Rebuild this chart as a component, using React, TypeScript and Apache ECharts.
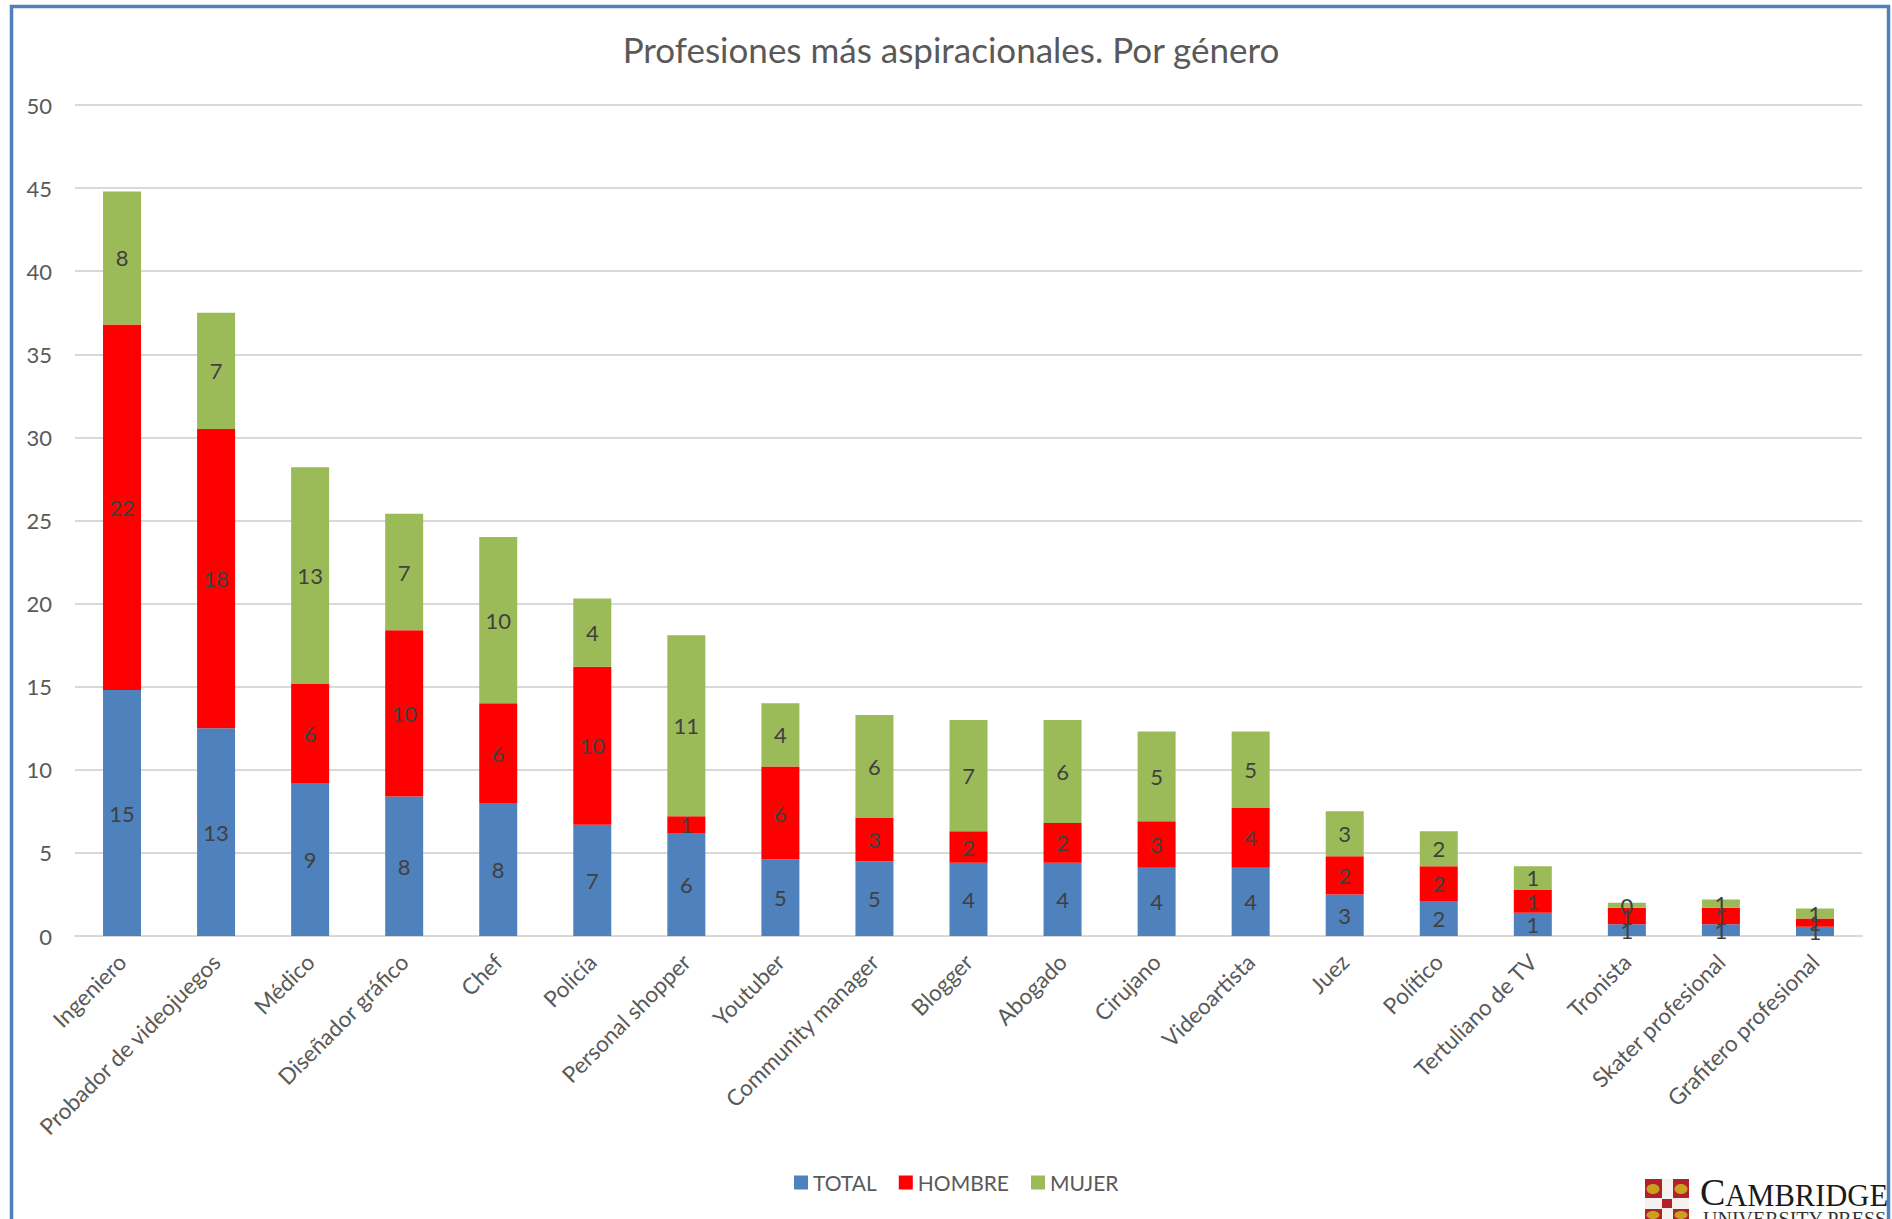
import React, { useEffect, useRef } from "react";
import * as echarts from "echarts";

const categories = ["Ingeniero", "Probador de videojuegos", "Médico", "Diseñador gráfico", "Chef", "Policía", "Personal shopper", "Youtuber", "Community manager", "Blogger", "Abogado", "Cirujano", "Videoartista", "Juez", "Político", "Tertuliano de TV", "Tronista", "Skater profesional", "Grafitero profesional"];
const total = [14.8, 12.5, 9.2, 8.4, 8.0, 6.7, 6.2, 4.6, 4.5, 4.4, 4.4, 4.1, 4.1, 2.5, 2.1, 1.4, 0.7, 0.7, 0.55];
const hombre = [22.0, 18.0, 6.0, 10.0, 6.0, 9.5, 1.0, 5.6, 2.6, 1.9, 2.4, 2.8, 3.6, 2.3, 2.1, 1.4, 1.0, 1.0, 0.5];
const mujer = [8.0, 7.0, 13.0, 7.0, 10.0, 4.1, 10.9, 3.8, 6.2, 6.7, 6.2, 5.4, 4.6, 2.7, 2.1, 1.4, 0.3, 0.5, 0.6];

const FONT = "Lato";
const TEXT = "#595959";

function bar(name: string, data: number[], color: string) {
  return {
    name,
    type: "bar",
    stack: "a",
    data,
    barWidth: 38,
    itemStyle: { color },
    label: {
      show: true,
      position: "inside",
      color: "#404040",
      fontFamily: FONT,
      fontSize: 22,
      formatter: (p: any) => String(Math.round(p.value)),
    },
    labelLayout: { hideOverlap: false },
  };
}

export default function App() {
  const ref = useRef<HTMLDivElement>(null);
  useEffect(() => {
    const chart = echarts.init(ref.current!, undefined, { renderer: "svg" });
    chart.setOption({
      animation: false,
      backgroundColor: "#ffffff",
      title: {
        text: "Profesiones más aspiracionales. Por género",
        left: 946,
        top: 26,
        textAlign: "center",
        textStyle: { fontFamily: FONT, fontSize: 35, fontWeight: "normal", color: TEXT },
      },
      legend: {
        left: 789,
        top: 1167,
        itemWidth: 14,
        itemHeight: 14,
        itemGap: 22,
        icon: "rect",
        textStyle: { fontFamily: FONT, fontSize: 21, color: TEXT },
        data: ["TOTAL", "HOMBRE", "MUJER"],
      },
      grid: { left: 75, right: 30, top: 105, height: 831, containLabel: false },
      xAxis: {
        type: "category",
        data: categories,
        axisTick: { show: false },
        axisLine: { lineStyle: { color: "#d9d9d9", width: 2 } },
        axisLabel: { interval: 0, rotate: 45, margin: 22, fontFamily: FONT, fontSize: 22.5, color: TEXT },
      },
      yAxis: {
        type: "value",
        min: 0,
        max: 50,
        interval: 5,
        axisLine: { show: false },
        axisTick: { show: false },
        splitLine: { lineStyle: { color: "#d9d9d9", width: 2 } },
        axisLabel: { margin: 23, fontFamily: FONT, fontSize: 22, color: TEXT, padding: [0, 0, 4, 0] },
      },
      series: [bar("TOTAL", total, "#4f81bd"), bar("HOMBRE", hombre, "#ff0000"), bar("MUJER", mujer, "#9bbb59")],
      graphic: [
        { type: "rect", silent: true, shape: { x: 11.5, y: 6.5, width: 1877, height: 1240 }, style: { fill: "none", stroke: "#4f81bd", lineWidth: 3.5 } },
        {
          type: "group",
          silent: true,
          children: [
            { type: "rect", shape: { x: 1645, y: 1179, width: 44, height: 42 }, style: { fill: "#b3202a" } },
            { type: "rect", shape: { x: 1662, y: 1179, width: 11, height: 42 }, style: { fill: "#f4f2ee" } },
            { type: "rect", shape: { x: 1645, y: 1198, width: 44, height: 11 }, style: { fill: "#f4f2ee" } },
            { type: "rect", shape: { x: 1662, y: 1199, width: 10, height: 9 }, style: { fill: "#b3202a" } },
            { type: "ellipse", shape: { cx: 1653, cy: 1189, rx: 6.5, ry: 5 }, style: { fill: "#c9a11d" } },
            { type: "ellipse", shape: { cx: 1681, cy: 1189, rx: 6.5, ry: 5 }, style: { fill: "#c9a11d" } },
            { type: "ellipse", shape: { cx: 1653, cy: 1215, rx: 6.5, ry: 4 }, style: { fill: "#c9a11d" } },
            { type: "ellipse", shape: { cx: 1681, cy: 1215, rx: 6.5, ry: 4 }, style: { fill: "#c9a11d" } },
            {
              type: "text",
              x: 1700,
              y: 1173,
              style: {
                text: "{a|C}{b|AMBRIDGE}",
                rich: {
                  a: { fontFamily: "Liberation Serif", fontSize: 38, fill: "#1a1a1a", verticalAlign: "bottom" },
                  b: { fontFamily: "Liberation Serif", fontSize: 30.5, fill: "#1a1a1a", verticalAlign: "bottom" },
                },
              },
            },
            { type: "text", x: 1703, y: 1209, style: { text: "UNIVERSITY PRESS", fontFamily: "Liberation Serif", fontSize: 20, fill: "#333333" } },
          ],
        },
      ],
    });
    return () => chart.dispose();
  }, []);
  return <div ref={ref} style={{ position: "fixed", left: 0, top: 0, width: 1892, height: 1219 }} />;
}
